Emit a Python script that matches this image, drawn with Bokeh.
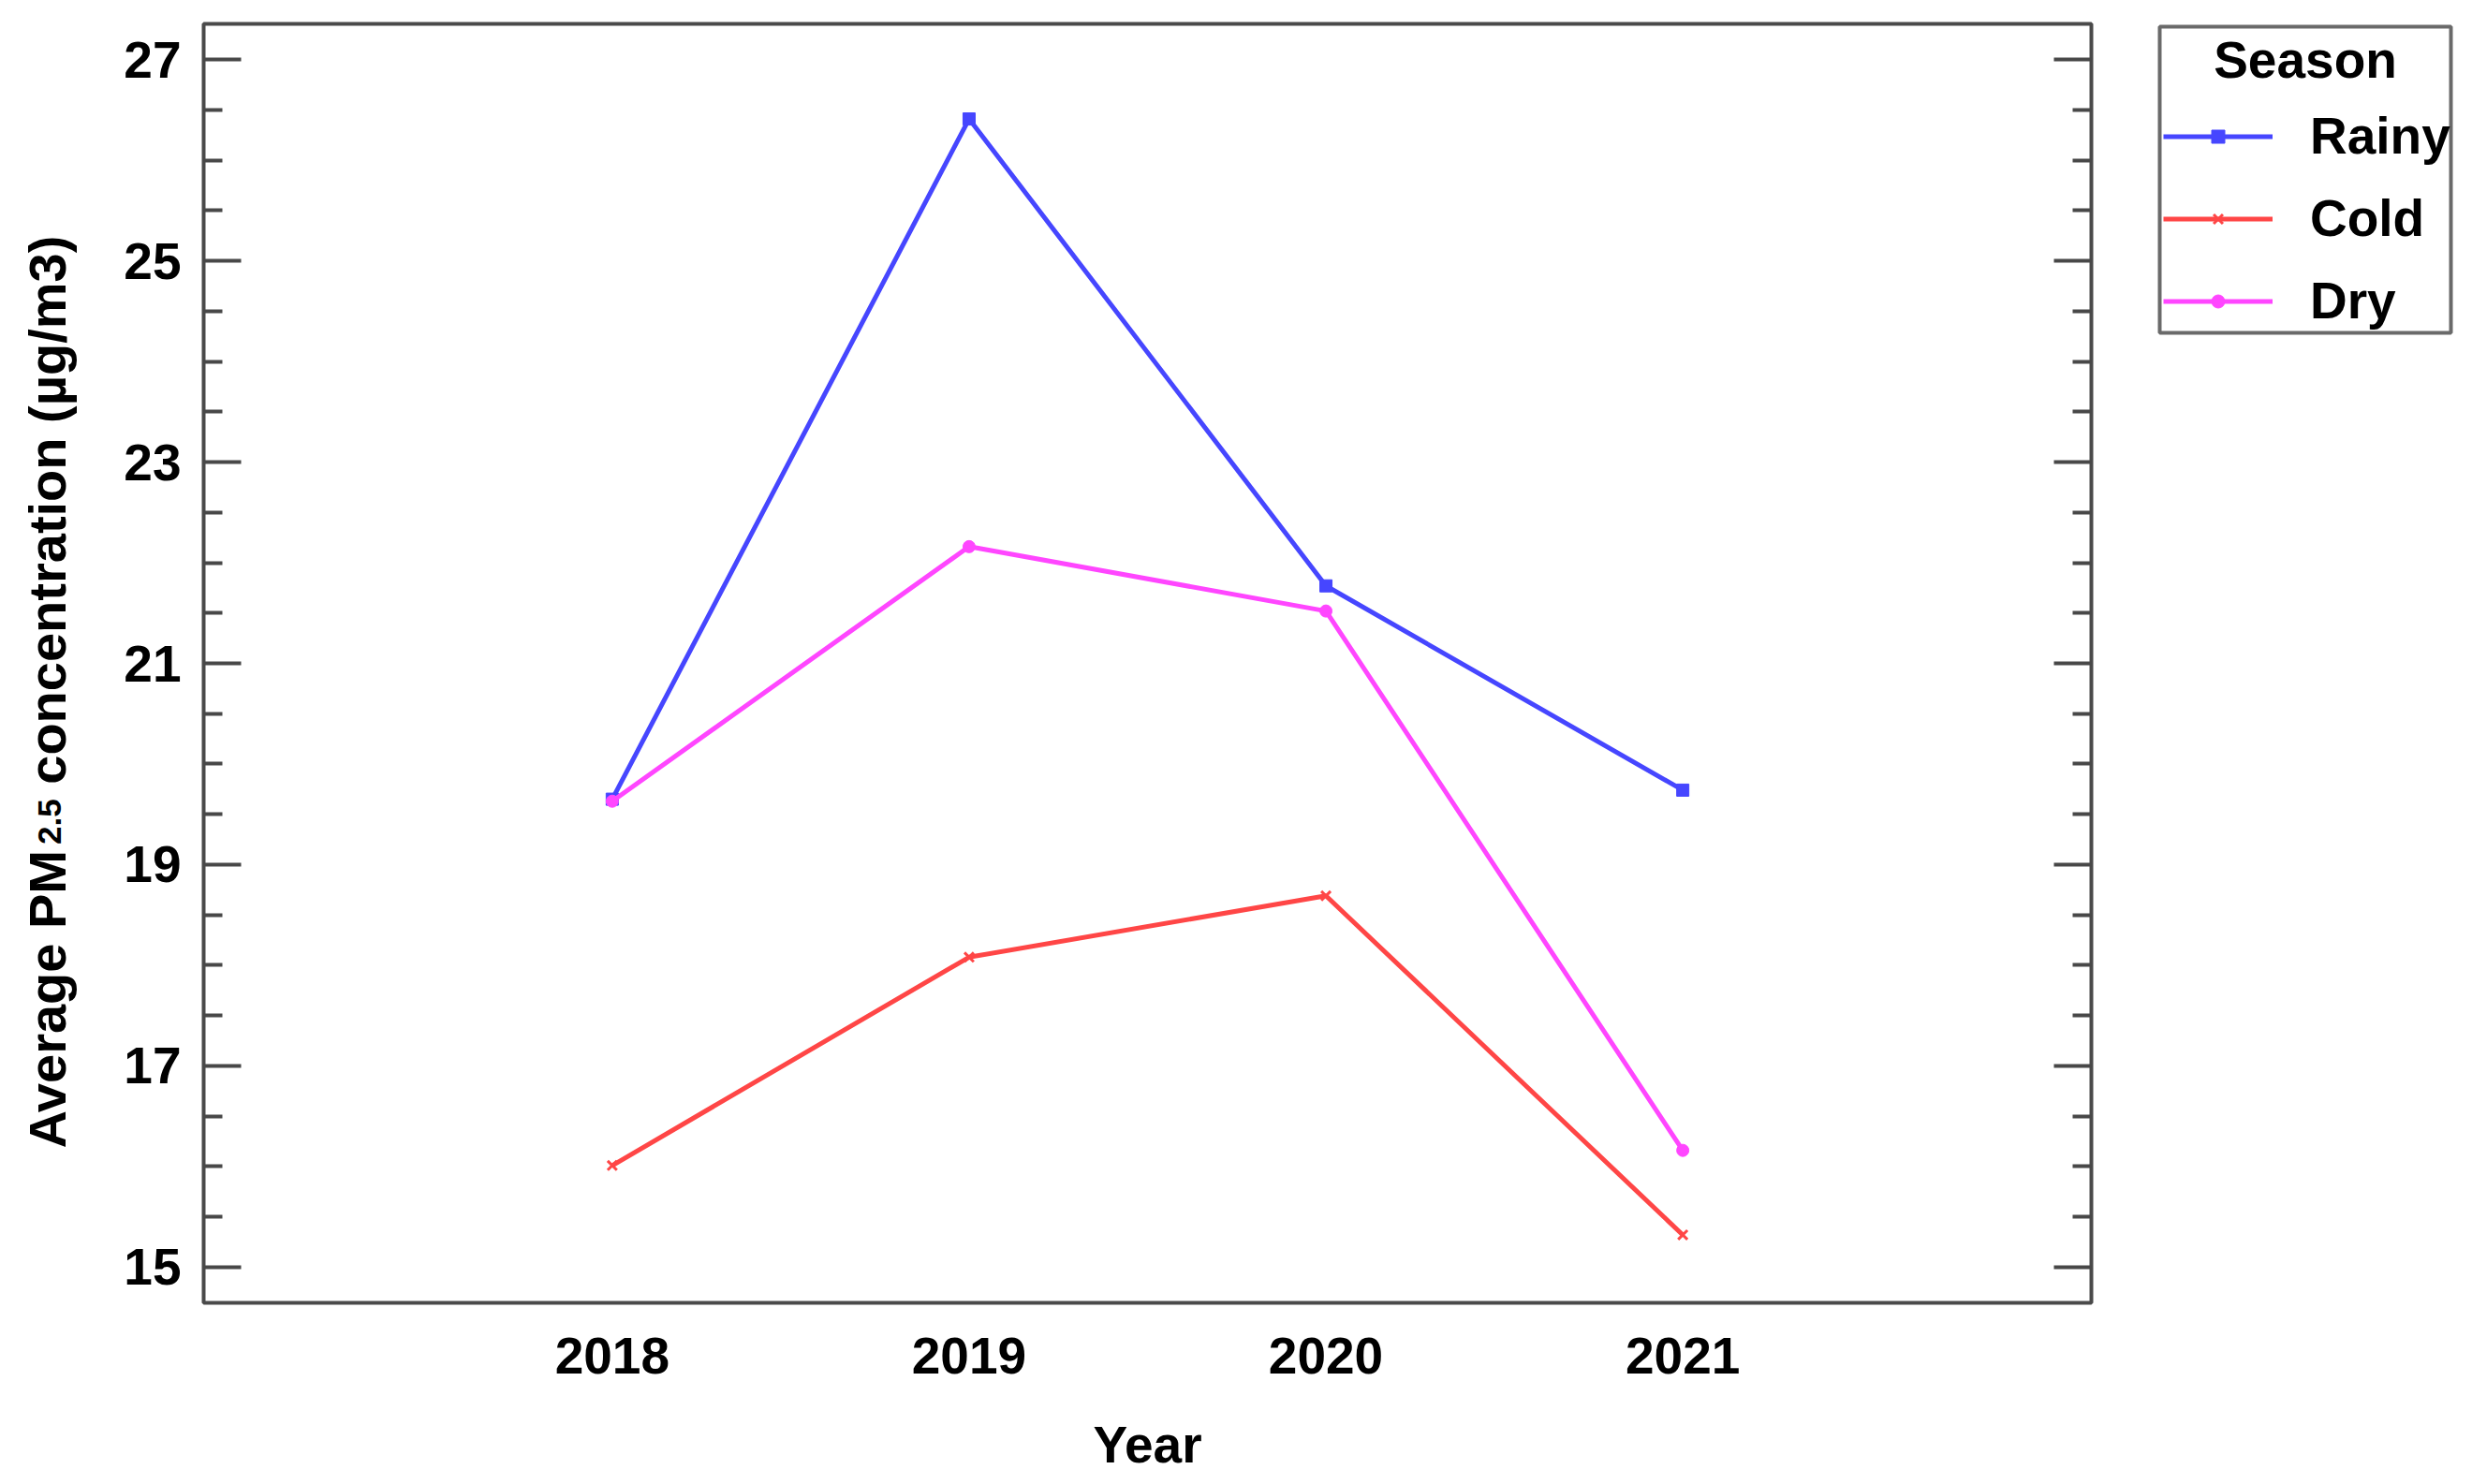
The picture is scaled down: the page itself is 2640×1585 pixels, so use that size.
import math
from bokeh.plotting import figure
from bokeh.layouts import row
from bokeh.models import (Range1d, LinearAxis, FixedTicker, Legend, LegendItem)
from bokeh.core.properties import value
from bokeh.embed import file_html
from bokeh.resources import INLINE

# ---- data ----
years = [2018, 2019, 2020, 2021]
seasons = ["Rainy", "Cold", "Dry"]
rainy = [19.65, 26.41, 21.77, 19.74]
cold = [16.01, 18.08, 18.69, 15.32]
dry = [19.63, 22.16, 21.52, 16.16]
y_ticks = [15, 17, 19, 21, 23, 25, 27]
x_label = "Year"
y_label_parts = ["Average PM", "2.5", "concentration (µg/m3)"]
legend_title = "Season"

series = [rainy, cold, dry]
colors = ["#4646ff", "#ff4646", "#ff46ff"]
markers = ["square", "x", "circle"]

FONT = "Liberation Sans"
H = 1584
TOP, BOT = 25, 1391          # frame top / bottom (page px)
LW = 110                     # strip for the y-axis title
MAIN_R = 2303                # page x where the main figure ends
MW = MAIN_R - LW
FRAME_L, FRAME_R = 217, 2233
LGW = 335

def frame_borders():
    return dict(min_border_top=TOP, min_border_bottom=H - BOT)

# ---------------- main plot ----------------
p = figure(width=MW, height=H,
           x_range=Range1d(2016.855, 2022.145), y_range=Range1d(14.645, 27.355),
           output_backend="svg", toolbar_location=None,
           min_border_left=FRAME_L - LW, min_border_right=MAIN_R - FRAME_R,
           **frame_borders())
p.grid.visible = False
p.outline_line_color = "#4a4a4a"
p.outline_line_width = 4
p.background_fill_color = "white"
p.border_fill_color = "white"

minor = [t + k * 0.5 for t in y_ticks for k in (-1, 1, 2, 3)]
yticker = FixedTicker(ticks=y_ticks, minor_ticks=minor)

def style_y(ax):
    ax.ticker = yticker
    ax.axis_line_color = None
    ax.major_tick_in = 40
    ax.major_tick_out = 0
    ax.minor_tick_in = 20
    ax.minor_tick_out = 0
    ax.major_tick_line_width = 4
    ax.minor_tick_line_width = 4
    ax.major_tick_line_color = "#484848"
    ax.minor_tick_line_color = "#484848"
    ax.major_label_text_font = FONT
    ax.major_label_text_font_style = "bold"

yl = p.yaxis[0]
style_y(yl)
yl.major_label_text_font_size = "55px"
yl.major_label_text_color = "black"
yl.major_label_standoff = 24

right = LinearAxis()
style_y(right)
right.major_label_overrides = {t: "" for t in y_ticks}
right.major_label_text_font_size = "1px"
right.major_label_text_color = None
right.major_label_standoff = 0
p.add_layout(right, "right")

xa = p.xaxis[0]
xa.ticker = FixedTicker(ticks=years, minor_ticks=[])
xa.axis_line_color = None
xa.major_tick_in = 0
xa.major_tick_out = 0
xa.major_tick_line_color = None
xa.minor_tick_line_color = None
xa.major_label_text_font = FONT
xa.major_label_text_font_style = "bold"
xa.major_label_text_font_size = "55px"
xa.major_label_text_color = "black"
xa.major_label_standoff = 37
xa.axis_label = x_label
xa.axis_label_text_font = FONT
xa.axis_label_text_font_style = "bold"
xa.axis_label_text_font_size = "55px"
xa.axis_label_text_color = "black"
xa.axis_label_standoff = 42

LINE_W = 5
def add_series(fig, vals, col, mk):
    lr = fig.line(years, vals, line_color=col, line_width=LINE_W)
    if mk == "x":
        sr = fig.scatter(years, vals, marker=mk, size=14, line_color=col, line_width=3)
    else:
        sr = fig.scatter(years, vals, marker=mk, size=13, fill_color=col, line_color=col)
    return lr, sr

for vals, col, mk in zip(series, colors, markers):
    add_series(p, vals, col, mk)

# ---------------- y-axis title strip ----------------
lf = figure(width=LW, height=H, x_range=Range1d(0, LW), y_range=Range1d(H - BOT, H - TOP),
            output_backend="svg", toolbar_location=None,
            x_axis_location=None, y_axis_location=None,
            min_border_left=0, min_border_right=0, **frame_borders())
lf.grid.visible = False
lf.outline_line_color = None
lf.background_fill_color = "white"
lf.border_fill_color = "white"

base_x = 50
start = 1226                 # page y where the title begins (reads upward)
w1 = 5.724 * 56              # "Average PM"
w2 = 1.39 * 35               # "2.5"
gap = 0.278 * 56             # word space before "concentration"
starts = [start, start - w1 - 4, start - w1 - 4 - w2 - gap]
sizes = ["56px", "35px", "56px"]
shifts = [0, 2, 0]
for txt, st, sz, sh in zip(y_label_parts, starts, sizes, shifts):
    lf.text(x=[base_x + sh], y=[H - st], text=[txt], angle=math.pi / 2,
            text_font=value(FONT), text_font_style="bold", text_font_size=sz,
            text_color="black", text_align="left", text_baseline="alphabetic")

# ---------------- legend strip ----------------
lg = figure(width=LGW, height=H, x_range=Range1d(0, LGW), y_range=Range1d(H - BOT, H - TOP),
            output_backend="svg", toolbar_location=None,
            x_axis_location=None, y_axis_location=None,
            min_border_left=0, min_border_right=0, **frame_borders())
lg.grid.visible = False
lg.outline_line_color = None
lg.background_fill_color = "white"
lg.border_fill_color = "white"

bx0, bx1, by0, by1 = 2306 - MAIN_R, 2617 - MAIN_R, 28, 355   # legend box (page px)
lg.quad(left=[bx0], right=[bx1], top=[H - by0], bottom=[H - by1],
        fill_color="white", line_color="#6a6a6a", line_width=4)
lg.text(x=[(bx0 + bx1) / 2], y=[H - 63], text=[legend_title],
        text_font=value(FONT), text_font_style="bold", text_font_size="55px",
        text_color="black", text_align="center", text_baseline="alphabetic")

items = []
for name, vals, col, mk in zip(seasons, series, colors, markers):
    # same series drawn in the legend strip (outside its visible range) only to supply legend glyphs
    lr, sr = add_series(lg, vals, col, mk)
    items.append(LegendItem(label=name, renderers=[lr, sr]))

legend = Legend(items=items, location=(7, BOT - 353),
                label_text_font=FONT, label_text_font_style="bold",
                label_text_font_size="55px", label_text_color="black",
                border_line_color=None, background_fill_alpha=0,
                padding=0, spacing=24, margin=0,
                label_height=62, glyph_height=35, glyph_width=117,
                label_standoff=40)
lg.add_layout(legend)

layout = row(lf, p, lg, spacing=0)
open("out.html", "w").write(file_html(layout, INLINE))
